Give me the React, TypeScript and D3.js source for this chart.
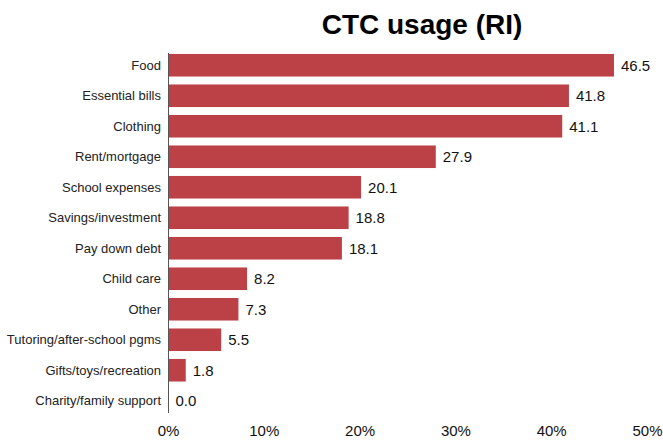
import React from "react";
import * as d3 from "d3";

const categories = [
  "Food",
  "Essential bills",
  "Clothing",
  "Rent/mortgage",
  "School expenses",
  "Savings/investment",
  "Pay down debt",
  "Child care",
  "Other",
  "Tutoring/after-school pgms",
  "Gifts/toys/recreation",
  "Charity/family support",
];
const values = [46.5, 41.8, 41.1, 27.9, 20.1, 18.8, 18.1, 8.2, 7.3, 5.5, 1.8, 0.0];
const xTicks = [0, 10, 20, 30, 40, 50];
const title = "CTC usage (RI)";

export default function App() {
  const W = 663, H = 440;
  const x = d3.scaleLinear().domain([0, 50]).range([168.5, 647.5]);
  const y = d3.scaleBand<string>().domain(categories).range([50, 416]).paddingInner(0.26).paddingOuter(0.13);
  const font = "'Liberation Sans', Arial, sans-serif";
  return (
    <svg width={W} height={H} style={{ position: "absolute", left: 0, top: 0 }} fontFamily={font}>
      <rect width={W} height={H} fill="#fff" />
      <text x={422} y={34} textAnchor="middle" fontSize={28} fontWeight="bold" fill="#000">{title}</text>
      {categories.map((c, i) => (
        <g key={c}>
          <rect x={x(0)} y={y(c)!} width={x(values[i]) - x(0)} height={y.bandwidth()} fill="#bb4146" />
          <text x={161} y={y(c)! + y.bandwidth() / 2} dy="0.35em" textAnchor="end" fontSize={13} fill="#222">{c}</text>
          <text x={x(values[i]) + 7} y={y(c)! + y.bandwidth() / 2} dy="0.36em" fontSize={15} fill="#111">{values[i].toFixed(1)}</text>
        </g>
      ))}
      <line x1={x(0)} x2={x(0)} y1={53} y2={413} stroke="#555" strokeWidth={1} />
      {xTicks.map((t) => (
        <text key={t} x={x(t)} y={436} textAnchor="middle" fontSize={15} fill="#111">{t}%</text>
      ))}
    </svg>
  );
}
